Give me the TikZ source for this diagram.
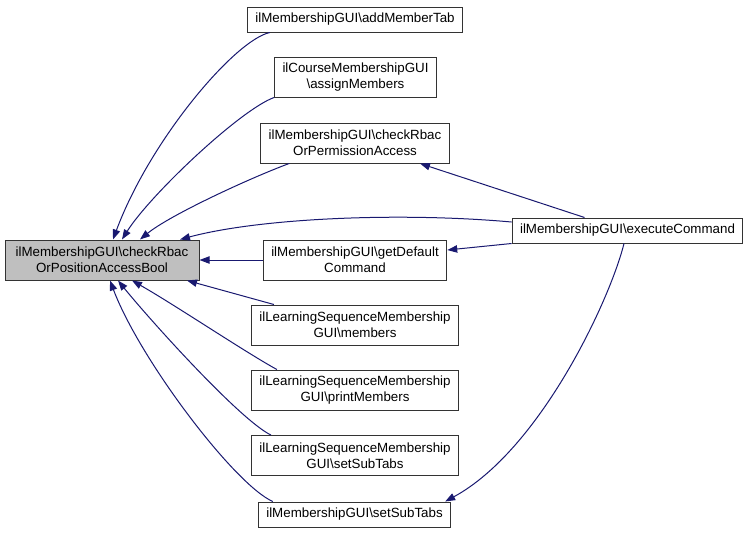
\documentclass[tikz,border=0pt]{standalone}
\usepackage{fontspec}
\setmainfont{Liberation Sans}
\usetikzlibrary{calc,arrows.meta}
\definecolor{edgeblue}{RGB}{25,25,112}
\definecolor{boxgray}{RGB}{191,191,191}
\def\bs{\textbackslash}
\tikzset{
	fnbox/.style={draw=black!80, line width=0.75pt, fill=white, align=center, inner xsep=6pt, inner ysep=1pt, font=\fontsize{10}{12}\selectfont},
	fnone/.style={fnbox, minimum height=18.75pt},
	fntwo/.style={fnbox, minimum height=30pt},
	calledge/.style={draw=edgeblue, line width=0.75pt, -{Triangle[length=7.5pt,width=5.5pt]}}
}

\begin{document}
\begin{tikzpicture}[x=0.75pt, y=-0.75pt]
			%%%%% START %%%%%
			\useasboundingbox (0, 0) rectangle (751, 533);
			
			\node[fntwo, fill=boxgray, minimum width=145.5pt] (checkpos) at (102, 260) {ilMembershipGUI\bs checkRbac\\OrPositionAccessBool};
			
			\node[fnone] (addtab) at (355, 19.5) {ilMembershipGUI\bs addMemberTab};
			\node[fntwo] (assign) at (355.5, 77) {ilCourseMembershipGUI\\\bs assignMembers};
			\node[fntwo] (checkperm) at (355, 143) {ilMembershipGUI\bs checkRbac\\OrPermissionAccess};
			\node[fntwo] (getdefault) at (355, 260) {ilMembershipGUI\bs getDefault\\Command};
			\node[fntwo] (lsmembers) at (355, 325) {ilLearningSequenceMembership\\GUI\bs members};
			\node[fntwo] (lsprint) at (355, 390) {ilLearningSequenceMembership\\GUI\bs printMembers};
			\node[fntwo] (lssubtabs) at (355, 455.5) {ilLearningSequenceMembership\\GUI\bs setSubTabs};
			\node[fnone] (subtabs) at (354.5, 514.5) {ilMembershipGUI\bs setSubTabs};
			
			\node[fnone] (execcmd) at (627.5, 230.5) {ilMembershipGUI\bs executeCommand};
			
			% callers of checkRbacOrPositionAccessBool
			\draw[calledge] ($(addtab.south west)+(23, 0)$) .. controls (235, 40) and (150, 140) .. ($(checkpos.north)+(11, 0)$);
			\draw[calledge] (assign.south west) .. controls (240, 110) and (150, 195) .. ($(checkpos.north)+(20, 0)$);
			\draw[calledge] ($(checkperm.south west)+(29, 0)$) .. controls (250, 178) and (170, 215) .. ($(checkpos.north)+(38, 0)$);
			\draw[calledge] ($(execcmd.west)+(0, -8.5)$) .. controls (400, 212) and (260, 218) .. ($(checkpos.north)+(78, 0)$);
			\draw[calledge] (getdefault.west) -- (checkpos.east);
			\draw[calledge] ($(lsmembers.north west)+(23, 0)$) -- ($(checkpos.south)+(85, 0)$);
			\draw[calledge] ($(lsprint.north west)+(26, 0)$) .. controls (245, 352) and (175, 305) .. ($(checkpos.south)+(30, 0)$);
			\draw[calledge] ($(lssubtabs.north west)+(20, 0)$) .. controls (240, 420) and (150, 320) .. ($(checkpos.south)+(16, 0)$);
			\draw[calledge] ($(subtabs.north west)+(15, 0)$) .. controls (235, 485) and (140, 360) .. ($(checkpos.south)+(8, 0)$);
			
			% callees of executeCommand
			\draw[calledge] ($(execcmd.north west)+(73, 0)$) -- ($(checkperm.south)+(65, 0)$);
			\draw[calledge] (execcmd.south west) -- ($(getdefault.east)+(0, -10)$);
			\draw[calledge] ($(execcmd.south)+(-3.5, 0)$) .. controls (610, 300) and (540, 450) .. ($(subtabs.north east)+(-6, 0)$);
			
			%%%%% END %%%%%
\end{tikzpicture}
\end{document}
